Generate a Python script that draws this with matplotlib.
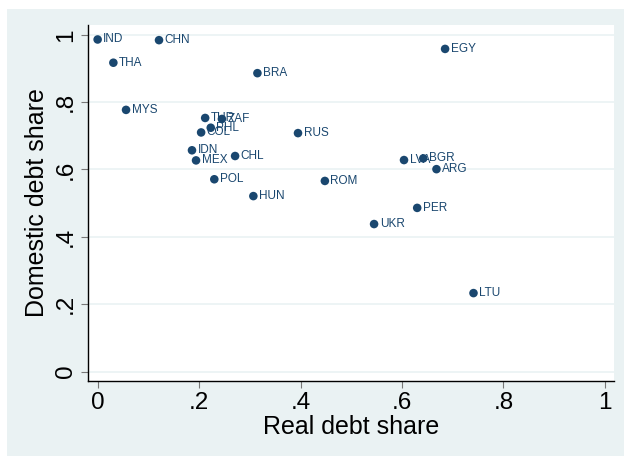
import matplotlib
matplotlib.use("Agg")
import matplotlib.pyplot as plt
from matplotlib.patches import Rectangle

# country codes with real (x) and domestic (y) debt shares
countries = ["IND", "CHN", "THA", "MYS", "EGY", "LTU", "BRA", "TUR", "ZAF",
             "PHL", "COL", "IDN", "MEX", "CHL", "POL", "HUN", "RUS", "ROM",
             "LVA", "BGR", "ARG", "PER", "UKR"]
real_share = [0.000, 0.121, 0.031, 0.056, 0.685, 0.741, 0.315, 0.212, 0.245,
              0.223, 0.204, 0.186, 0.194, 0.271, 0.230, 0.307, 0.395, 0.448,
              0.604, 0.642, 0.668, 0.630, 0.545]
domestic_share = [0.986, 0.984, 0.917, 0.777, 0.958, 0.233, 0.886, 0.753, 0.750,
                  0.724, 0.710, 0.657, 0.627, 0.640, 0.571, 0.521, 0.708, 0.566,
                  0.628, 0.633, 0.601, 0.486, 0.438]

xticks = [0, 0.2, 0.4, 0.6, 0.8, 1.0]
xtick_labels = ["0", ".2", ".4", ".6", ".8", "1"]
yticks = [0, 0.2, 0.4, 0.6, 0.8, 1.0]
ytick_labels = ["0", ".2", ".4", ".6", ".8", "1"]

navy = "#1a476f"
bg = "#eaf2f3"

plt.rcParams["font.family"] = ["Liberation Sans", "DejaVu Sans"]

W, H = 624, 458
fig = plt.figure(figsize=(W / 100, H / 100), dpi=100, facecolor="white")
fig.patches.append(Rectangle((7 / W, 2 / H), (W - 7) / W, (H - 11) / H,
                             transform=fig.transFigure, facecolor=bg,
                             edgecolor="none", zorder=-10))

# plot region in pixels: left 88, right 614, top 25, bottom 381
ax = fig.add_axes([88 / W, 1 - 381 / H, (614 - 88) / W, (381 - 25) / H])
ax.set_facecolor("white")
ax.set_xlim(-0.019, 1.018)
ax.set_ylim(-0.028, 1.029)

for y in yticks:
    ax.axhline(y, color=bg, lw=1.2, zorder=1)

ax.scatter(real_share, domestic_share, s=38, color=navy, zorder=3,
           edgecolors="none")
for c, x, y in zip(countries, real_share, domestic_share):
    ax.annotate(c, (x, y), xytext=(4, 0), textcoords="offset points",
                va="center", ha="left", fontsize=8.5, color=navy, zorder=4)

ax.set_xticks(xticks)
ax.set_xticklabels(xtick_labels, fontsize=17.5)
ax.set_yticks(yticks)
ax.set_yticklabels(ytick_labels, fontsize=17.5, rotation=90, va="center")
ax.tick_params(axis="both", length=5, width=0.8, color="#777777", pad=3)

for side in ["top", "right"]:
    ax.spines[side].set_visible(False)
for side in ["left", "bottom"]:
    ax.spines[side].set_linewidth(1.0)
    ax.spines[side].set_color("black")

ax.set_xlabel("Real debt share", fontsize=18, labelpad=1)
ax.set_ylabel("Domestic debt share", fontsize=18, labelpad=4)

fig.savefig("out.png", dpi=100, facecolor="white")
